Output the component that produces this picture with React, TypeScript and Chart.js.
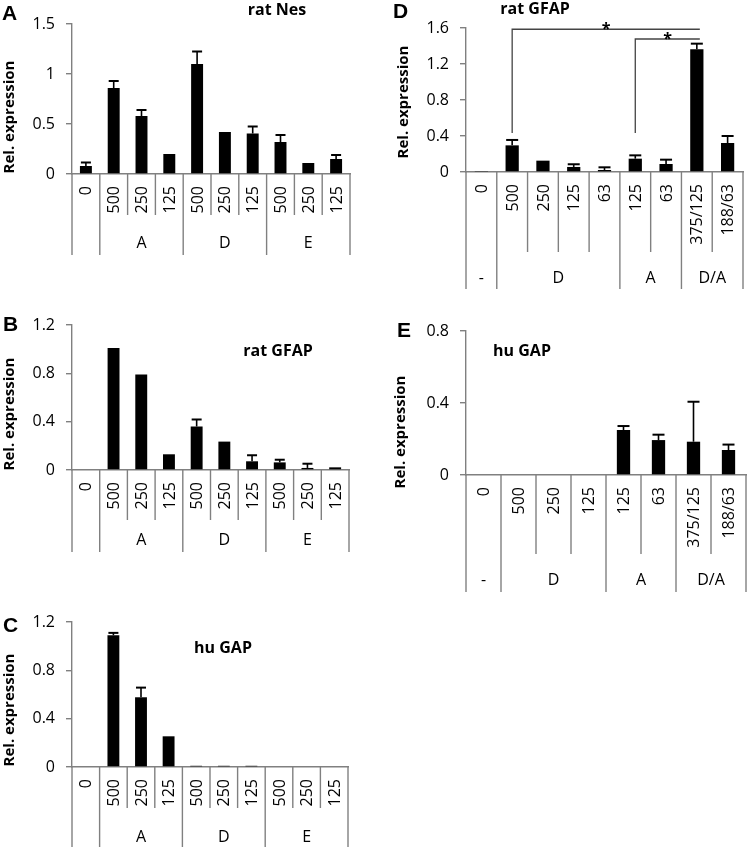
import React, { useEffect, useRef } from "react";
import { Chart, registerables } from "chart.js";

Chart.register(...registerables);

const FONT = "'Open Sans', 'Liberation Sans', sans-serif";
const LETTER_FONT = "'Liberation Sans', Arial, sans-serif";
const AXIS = "#808080";
const INK = "#000000";

// ---- categories / groups ----
const abcCategories = ["0", "500", "250", "125", "500", "250", "125", "500", "250", "125"];
const abcGroupLabels = ["", "A", "D", "E"];
const abcGroupSizes = [1, 3, 3, 3];

const dCategories = ["0", "500", "250", "125", "63", "125", "63", "375/125", "188/63"];
const dGroupLabels = ["-", "D", "A", "D/A"];
const dGroupSizes = [1, 4, 2, 2];

const eCategories = ["0", "500", "250", "125", "125", "63", "375/125", "188/63"];
const eGroupLabels = ["-", "D", "A", "D/A"];
const eGroupSizes = [1, 3, 2, 2];

// ---- y tick labels ----
const ticksA = [0, 0.5, 1, 1.5];
const ticksB = [0, 0.4, 0.8, 1.2];
const ticksC = [0, 0.4, 0.8, 1.2];
const ticksD = [0, 0.4, 0.8, 1.2, 1.6];
const ticksE = [0, 0.4, 0.8];

// ---- series values (mean) and upper error ----
const ratNesValues = [0.08, 0.86, 0.58, 0.2, 1.1, 0.42, 0.405, 0.32, 0.11, 0.15];
const ratNesErrors = [0.035, 0.07, 0.06, 0, 0.125, 0, 0.07, 0.07, 0, 0.04];

const ratGfapBValues = [0, 1.01, 0.79, 0.13, 0.36, 0.235, 0.072, 0.063, 0.017, 0.022];
const ratGfapBErrors = [0, 0, 0, 0, 0.058, 0, 0.05, 0.022, 0.035, 0];

const huGapCValues = [0, 1.09, 0.577, 0.254, 0.01, 0.01, 0.01, 0, 0, 0];
const huGapCErrors = [0, 0.02, 0.08, 0, 0, 0, 0, 0, 0, 0];

const ratGfapDValues = [0.011, 0.296, 0.126, 0.056, 0.022, 0.148, 0.089, 1.363, 0.322];
const ratGfapDErrors = [0, 0.06, 0, 0.03, 0.03, 0.037, 0.048, 0.063, 0.078];

const huGapEValues = [0, 0, 0, 0, 0.25, 0.194, 0.185, 0.139];
const huGapEErrors = [0, 0, 0, 0, 0.022, 0.03, 0.222, 0.03];

// ---- significance brackets (panel D) ----
const sigFrom = [1, 5];
const sigTo = [7, 7];
const sigLevel = [1.586, 1.478];
const sigBase = 0.433;
const sigMark = ["*", "*"];

type Panel = {
  letter: string;
  title: string;
  categories: string[];
  groupLabels: string[];
  groupSizes: number[];
  values: number[];
  errors: number[];
  ticks: number[];
  box: { x: number; y: number; w: number; h: number };
  plot: { left: number; right: number; top: number; bottom: number };
  innerEnd: number;
  groupEnd: number;
  groupLabelY: number;
  titlePos: [number, number];
  letterPos: [number, number];
  yTitlePos: [number, number];
  barPct: number;
  cap: number;
  brackets?: boolean;
};

const panels: Panel[] = [
  {
    letter: "A", title: "rat Nes", categories: abcCategories, groupLabels: abcGroupLabels,
    groupSizes: abcGroupSizes, values: ratNesValues, errors: ratNesErrors, ticks: ticksA,
    box: { x: 0, y: 0, w: 375, h: 290 }, plot: { left: 72, right: 350, top: 24, bottom: 174 },
    innerEnd: 215, groupEnd: 255, groupLabelY: 243, titlePos: [277, 10], letterPos: [2, 14],
    yTitlePos: [10, 117], barPct: 0.43, cap: 5,
  },
  {
    letter: "B", title: "rat GFAP", categories: abcCategories, groupLabels: abcGroupLabels,
    groupSizes: abcGroupSizes, values: ratGfapBValues, errors: ratGfapBErrors, ticks: ticksB,
    box: { x: 0, y: 290, w: 375, h: 270 }, plot: { left: 72, right: 349, top: 35, bottom: 180 },
    innerEnd: 230, groupEnd: 262, groupLabelY: 250, titlePos: [278, 61], letterPos: [3, 35],
    yTitlePos: [10, 124], barPct: 0.43, cap: 5,
  },
  {
    letter: "C", title: "hu GAP", categories: abcCategories, groupLabels: abcGroupLabels,
    groupSizes: abcGroupSizes, values: huGapCValues, errors: huGapCErrors, ticks: ticksC,
    box: { x: 0, y: 560, w: 375, h: 291 }, plot: { left: 72, right: 348, top: 62, bottom: 207 },
    innerEnd: 248, groupEnd: 287, groupLabelY: 277, titlePos: [223, 88], letterPos: [3, 66],
    yTitlePos: [10, 150], barPct: 0.43, cap: 5,
  },
  {
    letter: "D", title: "rat GFAP", categories: dCategories, groupLabels: dGroupLabels,
    groupSizes: dGroupSizes, values: ratGfapDValues, errors: ratGfapDErrors, ticks: ticksD,
    box: { x: 375, y: 0, w: 375, h: 300 }, plot: { left: 91, right: 368, top: 28, bottom: 172 },
    innerEnd: 252, groupEnd: 289, groupLabelY: 278, titlePos: [160, 9], letterPos: [18, 12],
    yTitlePos: [29, 102], barPct: 0.43, cap: 6, brackets: true,
  },
  {
    letter: "E", title: "hu GAP", categories: eCategories, groupLabels: eGroupLabels,
    groupSizes: eGroupSizes, values: huGapEValues, errors: huGapEErrors, ticks: ticksE,
    box: { x: 375, y: 300, w: 375, h: 300 }, plot: { left: 91, right: 371, top: 31, bottom: 175 },
    innerEnd: 254, groupEnd: 292, groupLabelY: 280, titlePos: [147, 51], letterPos: [22, 31],
    yTitlePos: [26, 132], barPct: 0.38, cap: 6,
  },
];

function makePlugin(p: Panel) {
  return {
    id: "decor" + p.letter,
    afterDatasetsDraw(chart: any) {
      const ctx = chart.ctx;
      const ys = chart.scales.y;
      const meta = chart.getDatasetMeta(0);
      ctx.save();
      ctx.strokeStyle = INK;
      p.errors.forEach((e, i) => {
        if (!e) return;
        const x = meta.data[i].x;
        const y0 = ys.getPixelForValue(p.values[i]);
        const y1 = ys.getPixelForValue(p.values[i] + e);
        ctx.lineWidth = 1.6;
        ctx.beginPath();
        ctx.moveTo(x, y0);
        ctx.lineTo(x, y1);
        ctx.stroke();
        ctx.lineWidth = 2;
        ctx.beginPath();
        ctx.moveTo(x - p.cap, y1);
        ctx.lineTo(x + p.cap, y1);
        ctx.stroke();
      });
      ctx.restore();
    },
    afterDraw(chart: any) {
      const ctx = chart.ctx;
      const xs = chart.scales.x;
      const ys = chart.scales.y;
      const bottom = chart.chartArea.bottom;
      const n = p.categories.length;
      const cw = (xs.right - xs.left) / n;
      const edge = (i: number) =>
        i < n ? xs.getPixelForValue(i) - cw / 2 : xs.getPixelForValue(n - 1) + cw / 2;

      const groupEdges: number[] = [0];
      let acc = 0;
      p.groupSizes.forEach((s) => {
        acc += s;
        groupEdges.push(acc);
      });

      ctx.save();
      // separator lines below the axis
      ctx.strokeStyle = AXIS;
      ctx.lineWidth = 1.4;
      for (let i = 0; i <= n; i++) {
        const x = edge(i);
        const yEnd = groupEdges.includes(i) ? p.groupEnd : p.innerEnd;
        ctx.beginPath();
        ctx.moveTo(x, bottom);
        ctx.lineTo(x, yEnd);
        ctx.stroke();
      }

      // category labels (rotated)
      ctx.fillStyle = INK;
      ctx.font = `16px ${FONT}`;
      p.categories.forEach((c, i) => {
        ctx.save();
        ctx.translate(xs.getPixelForValue(i) + 1, bottom + 12);
        ctx.rotate(-Math.PI / 2);
        ctx.textAlign = "right";
        ctx.textBaseline = "middle";
        ctx.fillText(c, 0, 0);
        ctx.restore();
      });

      // group labels
      ctx.textAlign = "center";
      ctx.textBaseline = "middle";
      let start = 0;
      p.groupSizes.forEach((s, gi) => {
        const x0 = edge(start);
        const x1 = edge(start + s);
        ctx.fillText(p.groupLabels[gi], (x0 + x1) / 2, p.groupLabelY);
        start += s;
      });

      // y axis title
      ctx.save();
      ctx.font = `bold 15px ${FONT}`;
      ctx.translate(p.yTitlePos[0], p.yTitlePos[1]);
      ctx.rotate(-Math.PI / 2);
      ctx.textAlign = "center";
      ctx.textBaseline = "middle";
      ctx.fillText("Rel. expression", 0, 0);
      ctx.restore();

      // panel title
      ctx.font = `bold 16px ${FONT}`;
      ctx.textAlign = "center";
      ctx.textBaseline = "middle";
      ctx.fillText(p.title, p.titlePos[0], p.titlePos[1]);

      // panel letter
      ctx.font = `bold 21px ${LETTER_FONT}`;
      ctx.textAlign = "left";
      ctx.fillStyle = "#000";
      ctx.fillText(p.letter, p.letterPos[0], p.letterPos[1]);

      // significance brackets
      if (p.brackets) {
        ctx.strokeStyle = "#444";
        ctx.lineWidth = 1.3;
        ctx.fillStyle = INK;
        ctx.font = `bold 16px ${FONT}`;
        ctx.textAlign = "center";
        ctx.textBaseline = "alphabetic";
        const yb = ys.getPixelForValue(sigBase);
        sigFrom.forEach((f, k) => {
          const xa = xs.getPixelForValue(f);
          const xb = xs.getPixelForValue(sigTo[k]) + 3;
          const yl = ys.getPixelForValue(sigLevel[k]);
          ctx.beginPath();
          ctx.moveTo(xa, yb);
          ctx.lineTo(xa, yl);
          ctx.lineTo(xb, yl);
          ctx.stroke();
          ctx.fillText(sigMark[k], (xa + xb) / 2, yl + 5);
        });
      }
      ctx.restore();
    },
  };
}

function PanelChart({ p }: { p: Panel }) {
  const ref = useRef<HTMLCanvasElement | null>(null);
  useEffect(() => {
    if (!ref.current) return;
    const chart = new Chart(ref.current, {
      type: "bar",
      data: {
        labels: p.categories,
        datasets: [
          {
            data: p.values,
            backgroundColor: "#000",
            borderWidth: 0,
            barPercentage: p.barPct,
            categoryPercentage: 1,
          },
        ],
      },
      options: {
        responsive: false,
        animation: false,
        devicePixelRatio: 1,
        events: [],
        layout: {
          padding: {
            left: 0,
            right: p.box.w - p.plot.right,
            top: p.plot.top,
            bottom: p.box.h - p.plot.bottom,
          },
        },
        plugins: {
          legend: { display: false },
          tooltip: { enabled: false },
          title: { display: false },
        },
        scales: {
          x: {
            type: "category",
            offset: true,
            grid: { display: false, drawTicks: false },
            border: { display: true, color: AXIS, width: 1.4 },
            ticks: { display: false },
            afterFit: (s: any) => {
              s.height = 0;
            },
          },
          y: {
            min: 0,
            max: p.ticks[p.ticks.length - 1],
            grid: {
              display: true,
              drawOnChartArea: false,
              drawTicks: true,
              tickLength: 6,
              color: AXIS,
              lineWidth: 1.4,
            },
            border: { display: true, color: AXIS, width: 1.4 },
            ticks: {
              padding: 11,
              color: INK,
              font: { family: FONT, size: 16 },
              callback: (v: any) => String(v),
            },
            afterBuildTicks: (s: any) => {
              s.ticks = p.ticks.map((v) => ({ value: v }));
            },
            afterFit: (s: any) => {
              s.width = p.plot.left;
            },
          },
        },
      } as any,
      plugins: [makePlugin(p)],
    });
    return () => chart.destroy();
  }, [p]);
  return (
    <canvas
      ref={ref}
      width={p.box.w}
      height={p.box.h}
      style={{ position: "absolute", left: p.box.x, top: p.box.y, width: p.box.w, height: p.box.h }}
    />
  );
}

export default function App() {
  return (
    <div style={{ position: "absolute", left: 0, top: 0, width: 750, height: 851, background: "#fff", overflow: "hidden" }}>
      {panels.map((p) => (
        <PanelChart key={p.letter} p={p} />
      ))}
    </div>
  );
}
